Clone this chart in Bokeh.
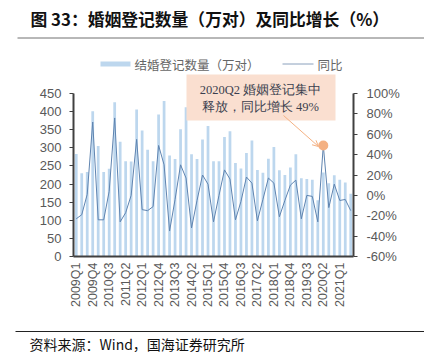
import math
from bokeh.plotting import figure
from bokeh.layouts import column
from bokeh.core.properties import value
from bokeh.models import (Range1d, LinearAxis, FixedTicker, PrintfTickFormatter,
                          Label, BoxAnnotation, Arrow, OpenHead, ColumnDataSource)
from bokeh.embed import file_html
from bokeh.resources import INLINE

# ---------------- data ----------------
quarters = [f"{y}Q{q}" for y in range(2009, 2022) for q in range(1, 5)][:51]
marriages = [283, 230, 233, 401, 305, 233, 242, 426, 317, 263,
             262, 406, 348, 295, 263, 392, 429, 279, 269, 351,
             412, 282, 269, 323, 360, 263, 263, 330, 346, 258,
             243, 286, 320, 239, 231, 270, 302, 238, 225, 246,
             282, 216, 214, 212, 155, 232, 202, 224, 212, 204, 173]
growth = [-23, -19, 1, 72, -24, -24, 4, 76, -26, -17,
          0, 55, -14, -15, -11, 49, 30, -35, -4, 30,
          17, -32, -5, 20, 11, -26, 0, 25, 16, -24,
          -6, 18, 12, -25, -4, 17, 12, -21, -5, 10,
          15, -23, 0, -1, -26, 49, -12, 11, -5, -4, -15]
left_ticks = [0, 50, 100, 150, 200, 250, 300, 350, 400, 450]
right_ticks = [-60, -40, -20, 0, 20, 40, 60, 80, 100]
label_step = 3
note_index = 45  # 2020Q2

title_text = "图 33：婚姻登记数量（万对）及同比增长（%）"
source_text = "资料来源：Wind，国海证券研究所"
bar_name = "结婚登记数量（万对）"
line_name = "同比"
note_lines = ["2020Q2 婚姻登记集中", "释放，同比增长 49%"]

# ---------------- layout (page pixels) ----------------
W, H = 424, 352
TOP_H = 50          # title strip height
BOT_H = 32          # footer strip height
MAIN_H = H - TOP_H - BOT_H
FL, FR, FB = 73, 353, 256      # frame left/right/bottom on page
Y450 = 93                      # page y of the 450 / 100% line
FRAME_H = FB - TOP_H           # frame spans from top of main figure
scale = FRAME_H / (FB - Y450)

def sx(px):
    return px - FL

def sy(py):
    return FB - py

BAR_C = "#BDD7EE"
LINE_C = "#5F84B0"
NOTE_C = "#F4B183"
AX_C = "#404040"
TXT_C = "#595959"
CJK = "Noto Sans CJK SC"


def no_align(fig):
    try:
        fig.frame_align = False
    except Exception:
        pass


# ---------------- title strip ----------------
top = figure(width=W, height=TOP_H, output_backend="svg", toolbar_location=None,
             x_range=Range1d(0, W), y_range=Range1d(TOP_H, 0),
             min_border=0, x_axis_type=None, y_axis_type=None)
no_align(top)
top.outline_line_color = None
top.xgrid.visible = False
top.ygrid.visible = False
top.text(x=[30], y=[18], text=[title_text], text_font=value(CJK), text_font_style="bold",
         text_font_size="16.8px", text_color="#111111", text_baseline="middle")
top.segment(x0=[17], y0=[37.5], x1=[W], y1=[37.5], line_color="#707070", line_width=1)

# ---------------- main chart ----------------
idx = list(range(len(quarters)))
src = ColumnDataSource(dict(x=idx, q=quarters, m=marriages, g=growth))

p = figure(width=W, height=MAIN_H, output_backend="svg", toolbar_location=None,
           x_range=Range1d(-0.5, len(quarters) - 0.5),
           y_range=Range1d(0, left_ticks[-1] * scale),
           min_border_left=FL, min_border_right=W - FR,
           min_border_top=0, min_border_bottom=MAIN_H - FRAME_H)
no_align(p)
span = right_ticks[-1] - right_ticks[0]
p.extra_y_ranges = {"pct": Range1d(right_ticks[0], right_ticks[0] + span * scale)}
p.outline_line_color = None
p.xgrid.visible = False
p.ygrid.visible = False

p.vbar(x="x", top="m", width=0.5, source=src, fill_color=BAR_C, line_color=None)
p.line(x="x", y="g", source=src, y_range_name="pct", line_color=LINE_C, line_width=1)
p.scatter(x=[idx[note_index]], y=[growth[note_index]], y_range_name="pct",
          size=10, fill_color=NOTE_C, line_color=None)

ra = LinearAxis(y_range_name="pct", ticker=FixedTicker(ticks=right_ticks),
                formatter=PrintfTickFormatter(format="%d%%"),
                bounds=(right_ticks[0], right_ticks[-1]))
p.add_layout(ra, "right")

la = p.left[0]
la.ticker = FixedTicker(ticks=left_ticks)
la.bounds = (left_ticks[0], left_ticks[-1])
xa = p.below[0]
xa.ticker = FixedTicker(ticks=idx[::label_step])
xa.major_label_overrides = {i: quarters[i] for i in idx[::label_step]}
xa.major_label_orientation = math.pi / 2

for ax in (la, ra, xa):
    ax.axis_line_color = AX_C
    ax.axis_line_width = 2
    ax.major_tick_line_color = AX_C
    ax.major_tick_line_width = 1
    ax.major_tick_in = 0
    ax.major_tick_out = 4
    ax.minor_tick_line_color = None
    ax.major_label_text_color = TXT_C
    ax.major_label_text_font = "Liberation Sans"
    ax.major_label_text_font_size = "13px"
la.major_label_standoff = 8
ra.major_label_standoff = 9
xa.major_tick_out = 0
xa.major_label_standoff = 6
xa.major_label_text_font_size = "12.5px"

# legend
p.add_layout(BoxAnnotation(left=sx(100), right=sx(130), top=sy(61), bottom=sy(66),
                           left_units="screen", right_units="screen",
                           top_units="screen", bottom_units="screen",
                           fill_color=BAR_C, fill_alpha=1, line_color=None))
p.add_layout(Label(x=sx(134), y=sy(63.5), x_units="screen", y_units="screen",
                   text=bar_name, text_font=CJK,
                   text_font_size="12.5px", text_color="#666666", text_baseline="middle"))
p.add_layout(Arrow(end=None, x_start=sx(282), y_start=sy(63.5), x_end=sx(313), y_end=sy(63.5),
                   start_units="screen", end_units="screen", line_color="#8AA0BC", line_width=1))
p.add_layout(Label(x=sx(317), y=sy(63.5), x_units="screen", y_units="screen",
                   text=line_name, text_font=CJK,
                   text_font_size="12.5px", text_color="#666666", text_baseline="middle"))

# annotation box
p.add_layout(BoxAnnotation(left=sx(186), right=sx(335), top=sy(74), bottom=sy(120),
                           left_units="screen", right_units="screen",
                           top_units="screen", bottom_units="screen",
                           fill_color="#FADFD0", fill_alpha=1, line_color=None))
for k, t in enumerate(note_lines):
    p.add_layout(Label(x=sx(260), y=sy(89 + 17 * k), x_units="screen", y_units="screen",
                       text=t, text_font="Liberation Serif", text_font_size="12.5px",
                       text_color="#3A3F4F", text_align="center", text_baseline="middle"))
p.add_layout(Arrow(end=OpenHead(size=6, line_color=NOTE_C, line_width=1),
                   x_start=sx(283), y_start=sy(115), x_end=sx(318), y_end=sy(146),
                   start_units="screen", end_units="screen", line_color=NOTE_C, line_width=1))

# ---------------- footer strip ----------------
bot = figure(width=W, height=BOT_H, output_backend="svg", toolbar_location=None,
             x_range=Range1d(0, W), y_range=Range1d(BOT_H, 0),
             min_border=0, x_axis_type=None, y_axis_type=None)
no_align(bot)
bot.outline_line_color = None
bot.xgrid.visible = False
bot.ygrid.visible = False
bot.segment(x0=[15], y0=[331 - (H - BOT_H)], x1=[W], y1=[331 - (H - BOT_H)],
            line_color="#222222", line_width=1)
bot.text(x=[29], y=[343 - (H - BOT_H)], text=[source_text], text_font=value(CJK),
         text_font_size="14px", text_color="#111111", text_baseline="middle")

layout = column(top, p, bot, spacing=0)
open("out.html", "w").write(file_html(layout, INLINE))
